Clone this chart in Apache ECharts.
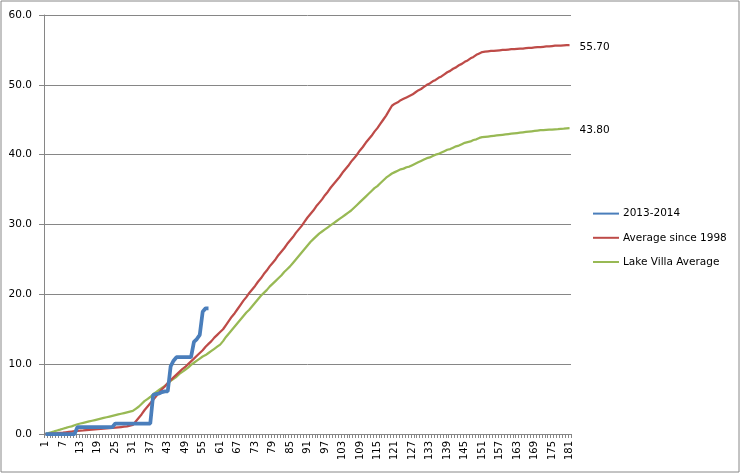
<!DOCTYPE html>
<html>
<head>
<meta charset="utf-8">
<script src="https://cdn.jsdelivr.net/npm/echarts@6/dist/echarts.min.js"></script>
<style>
html,body{margin:0;padding:0;background:#fff;}
#chart{width:743px;height:476px;}
</style>
</head>
<body>
<div id="chart"></div>
<script>
// Day numbers 1..181
const days = [];
for (let d = 1; d <= 181; d++) days.push(String(d));

const seriesNames = ['2013-2014', 'Average since 1998', 'Lake Villa Average'];

const season2013 = [
  0,0,0,0,0,0,0,0,0,0,
  0,1.0,1.0,1.0,1.0,1.0,1.0,1.0,1.0,1.0,
  1.0,1.0,1.0,1.0,1.5,1.5,1.5,1.5,1.5,1.5,
  1.5,1.5,1.5,1.5,1.5,1.5,1.5,5.6,5.7,5.8,
  6.0,6.1,6.1,9.7,10.5,11.0,11.0,11.0,11.0,11.0,
  11.0,13.2,13.6,14.2,17.5,18.0,18.0
];

const avgSince1998 = [
  0.0,0.03,0.07,0.1,0.13,0.17,0.2,0.25,0.3,0.35,
  0.4,0.45,0.5,0.53,0.57,0.6,0.63,0.67,0.7,0.73,
  0.77,0.8,0.83,0.87,0.9,0.95,1.0,1.05,1.1,1.2,
  1.3,1.8,2.3,2.8,3.4,3.9,4.4,4.9,5.4,5.9,
  6.4,6.8,7.3,7.7,8.1,8.5,8.9,9.3,9.6,10.0,
  10.4,10.8,11.2,11.6,12.0,12.5,12.9,13.3,13.8,14.2,
  14.6,15.0,15.6,16.2,16.8,17.3,17.9,18.5,19.1,19.6,
  20.2,20.7,21.2,21.8,22.3,22.9,23.4,24.0,24.5,25.0,
  25.6,26.1,26.6,27.2,27.7,28.2,28.8,29.3,29.8,30.4,
  31.0,31.5,32.0,32.6,33.1,33.6,34.2,34.7,35.3,35.8,
  36.3,36.8,37.4,37.9,38.4,39.0,39.5,40.0,40.6,41.1,
  41.7,42.2,42.7,43.3,43.8,44.4,45.0,45.6,46.3,47.0,
  47.3,47.5,47.8,48.0,48.2,48.4,48.6,48.9,49.2,49.4,
  49.7,50.0,50.2,50.5,50.7,51.0,51.2,51.5,51.8,52.0,
  52.3,52.5,52.8,53.0,53.3,53.5,53.8,54.0,54.3,54.5,
  54.7,54.75,54.8,54.85,54.85,54.9,54.95,55.0,55.0,55.05,
  55.1,55.1,55.15,55.2,55.2,55.25,55.3,55.3,55.35,55.4,
  55.4,55.45,55.5,55.5,55.55,55.6,55.6,55.62,55.65,55.68,55.7
];

const lakeVillaAvg = [
  0.0,0.12,0.25,0.37,0.5,0.62,0.75,0.87,1.0,1.1,
  1.25,1.4,1.5,1.6,1.7,1.8,1.9,2.0,2.1,2.2,
  2.3,2.4,2.5,2.6,2.7,2.8,2.9,3.0,3.1,3.2,
  3.3,3.6,3.9,4.3,4.7,5.0,5.3,5.7,6.0,6.3,
  6.6,6.9,7.2,7.6,7.9,8.2,8.6,8.9,9.2,9.5,
  9.9,10.2,10.5,10.8,11.1,11.3,11.6,11.9,12.2,12.5,
  12.8,13.3,13.9,14.4,14.9,15.4,15.9,16.4,16.9,17.4,
  17.8,18.3,18.8,19.3,19.8,20.2,20.6,21.1,21.5,21.9,
  22.3,22.7,23.2,23.6,24.0,24.5,25.0,25.5,26.0,26.5,
  27.0,27.5,27.9,28.3,28.7,29.0,29.3,29.6,29.9,30.2,
  30.5,30.8,31.1,31.4,31.7,32.0,32.4,32.8,33.2,33.6,
  34.0,34.4,34.8,35.2,35.5,35.9,36.3,36.7,37.0,37.3,
  37.5,37.7,37.9,38.0,38.2,38.3,38.5,38.7,38.9,39.1,
  39.3,39.5,39.6,39.8,40.0,40.1,40.3,40.5,40.7,40.8,
  41.0,41.2,41.3,41.5,41.7,41.8,41.9,42.1,42.2,42.4,
  42.5,42.55,42.6,42.65,42.7,42.75,42.8,42.85,42.9,42.95,
  43.0,43.05,43.1,43.15,43.2,43.25,43.3,43.35,43.4,43.45,
  43.5,43.52,43.55,43.58,43.6,43.63,43.66,43.7,43.73,43.77,43.8
];

const yMin = 0, yMax = 60, yStep = 10;

const FONT = 'DejaVu Sans';
const chart = echarts.init(document.getElementById('chart'), null, {renderer: 'canvas'});

chart.setOption({
  animation: false,
  backgroundColor: '#ffffff',
  textStyle: {fontFamily: FONT},
  graphic: [{
    type: 'rect',
    shape: {x: 1, y: 1, width: 738, height: 471},
    style: {fill: 'none', stroke: '#888888', lineWidth: 1},
    silent: true, z: -1
  }],
  grid: {left: 44, right: 172, top: 15, bottom: 42, containLabel: false},
  legend: {
    orient: 'vertical',
    left: 592,
    top: 208,
    padding: 0,
    itemWidth: 26,
    itemHeight: 14,
    itemGap: 13,
    itemStyle: {opacity: 0},
    textStyle: {fontFamily: FONT, fontSize: 10.5, color: '#000', padding: [0, 0, 0, -1]},
    data: seriesNames
  },
  xAxis: {
    type: 'category',
    data: days,
    boundaryGap: true,
    axisLine: {show: true, lineStyle: {color: '#868686', width: 1}},
    axisTick: {show: true, interval: 0, length: 4, lineStyle: {color: '#868686'}},
    axisLabel: {interval: 5, rotate: 90, fontSize: 10, fontFamily: FONT, color: '#000', margin: 7},
    splitLine: {show: false}
  },
  yAxis: {
    type: 'value',
    min: yMin, max: yMax, interval: yStep,
    axisLine: {show: true, lineStyle: {color: '#868686', width: 1}},
    axisTick: {show: true, length: 5, lineStyle: {color: '#868686'}},
    axisLabel: {formatter: v => v.toFixed(1), fontSize: 10.5, fontFamily: FONT, color: '#000', margin: 12},
    splitLine: {show: true, lineStyle: {color: '#868686', width: 1}}
  },
  series: [
    {
      name: seriesNames[0], type: 'line', data: season2013,
      symbol: 'none', smooth: false,
      lineStyle: {color: '#4A7EBB', width: 3.75},
      itemStyle: {color: '#4A7EBB'}, z: 4
    },
    {
      name: seriesNames[1], type: 'line', data: avgSince1998,
      symbol: 'none', smooth: false,
      lineStyle: {color: '#BE4B48', width: 2.25},
      itemStyle: {color: '#BE4B48'}, z: 3,
      endLabel: {show: true, formatter: p => Number(p.value).toFixed(2), fontSize: 10.5, fontFamily: FONT, color: '#000', distance: 10, offset: [0, 2]}
    },
    {
      name: seriesNames[2], type: 'line', data: lakeVillaAvg,
      symbol: 'none', smooth: false,
      lineStyle: {color: '#98B954', width: 2.25},
      itemStyle: {color: '#98B954'}, z: 2,
      endLabel: {show: true, formatter: p => Number(p.value).toFixed(2), fontSize: 10.5, fontFamily: FONT, color: '#000', distance: 10, offset: [0, 2]}
    }
  ]
});
</script>
</body>
</html>
